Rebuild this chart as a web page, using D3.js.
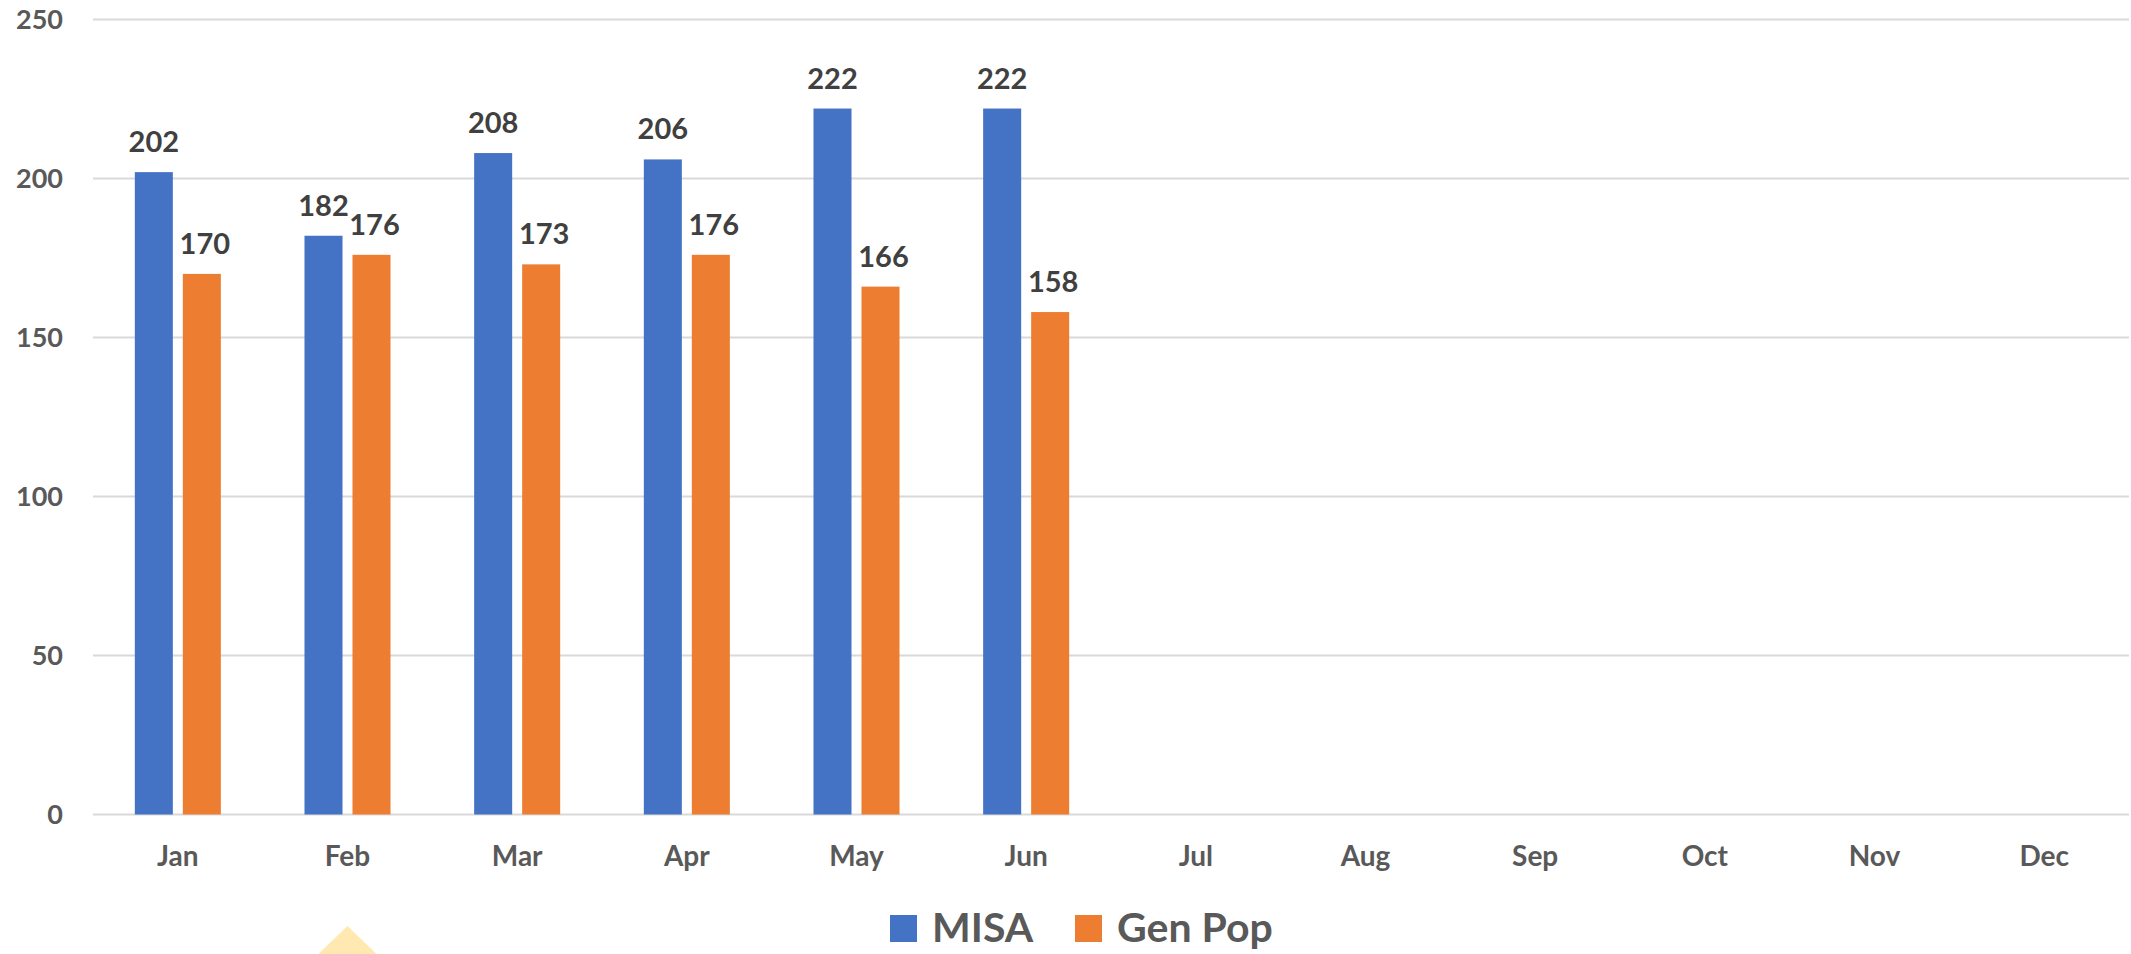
<!DOCTYPE html>
<html lang="en">

<head>
    <meta charset="UTF-8">
    <script src="https://d3js.org/d3.v7.min.js"></script>
    <style>
        body { margin: 0; background: #fff; }
        text { font-family: Lato, "Open Sans", sans-serif; font-weight: 700; }
    </style>
    <title>MISA vs Gen Pop</title>
</head>

<body>
    <div id="chart"></div>

    <script>
        // data
        var months = ["Jan", "Feb", "Mar", "Apr", "May", "Jun", "Jul", "Aug", "Sep", "Oct", "Nov", "Dec"];
        var seriesNames = ["MISA", "Gen Pop"];
        var misa = [202, 182, 208, 206, 222, 222];
        var genPop = [170, 176, 173, 176, 166, 158];
        var yTicks = [0, 50, 100, 150, 200, 250];
        var colors = ["#4472C4", "#ED7D31"];

        var width = 2131, height = 954;
        var margin = { top: 19.5, right: 2, bottom: 140, left: 93 };

        var svg = d3.select("#chart").append("svg")
            .attr("width", width)
            .attr("height", height);

        var x = d3.scaleBand()
            .domain(months)
            .range([margin.left, width - margin.right])
            .paddingInner(0.493)
            .paddingOuter(0.2465);

        var xs = d3.scaleBand()
            .domain(seriesNames)
            .range([0, x.bandwidth()])
            .paddingInner(0.208);

        var y = d3.scaleLinear()
            .domain([0, 250])
            .range([814.5, margin.top]);

        // gridlines
        svg.append("g")
            .selectAll("line")
            .data(yTicks)
            .enter()
            .append("line")
            .attr("x1", margin.left)
            .attr("x2", width - margin.right)
            .attr("y1", function (d) { return y(d); })
            .attr("y2", function (d) { return y(d); })
            .attr("stroke", "#D9D9D9")
            .attr("stroke-width", 2);

        // y labels
        svg.append("g")
            .selectAll("text")
            .data(yTicks)
            .enter()
            .append("text")
            .attr("x", 63)
            .attr("y", function (d) { return y(d); })
            .attr("dy", "0.35em")
            .attr("text-anchor", "end")
            .attr("fill", "#595959")
            .style("font-size", "27px")
            .text(function (d) { return d; });

        // x labels
        svg.append("g")
            .selectAll("text")
            .data(months)
            .enter()
            .append("text")
            .attr("x", function (d) { return x(d) + x.bandwidth() / 2; })
            .attr("y", 866)
            .attr("text-anchor", "middle")
            .attr("fill", "#595959")
            .style("font-size", "28px")
            .text(function (d) { return d; });

        // bars
        var rows = [];
        months.forEach(function (m, i) {
            if (i < misa.length) {
                rows.push({ month: m, key: "MISA", value: misa[i], color: colors[0] });
                rows.push({ month: m, key: "Gen Pop", value: genPop[i], color: colors[1] });
            }
        });

        svg.append("g")
            .selectAll("rect")
            .data(rows)
            .enter()
            .append("rect")
            .attr("x", function (d) { return x(d.month) + xs(d.key); })
            .attr("y", function (d) { return y(d.value); })
            .attr("width", xs.bandwidth())
            .attr("height", function (d) { return y(0) - y(d.value); })
            .attr("fill", function (d) { return d.color; });

        // value labels
        svg.append("g")
            .selectAll("text")
            .data(rows)
            .enter()
            .append("text")
            .attr("x", function (d) { return x(d.month) + xs(d.key) + xs.bandwidth() / 2 + (d.key == "Gen Pop" ? 3 : 0); })
            .attr("y", function (d) { return y(d.value) - 20; })
            .attr("text-anchor", "middle")
            .attr("fill", "#404040")
            .style("font-size", "29px")
            .text(function (d) { return d.value; });

        // legend
        var legendX = [890, 1075];
        var legend = svg.append("g")
            .selectAll("g")
            .data(seriesNames)
            .enter()
            .append("g")
            .attr("transform", function (d, i) { return "translate(" + legendX[i] + ",915)"; });

        legend.append("rect")
            .attr("width", 27)
            .attr("height", 27)
            .attr("fill", function (d, i) { return colors[i]; });

        legend.append("text")
            .attr("x", 42)
            .attr("y", 27)
            .attr("fill", "#595959")
            .style("font-size", "41px")
            .text(function (d) { return d; });

        // little yellow marker under Feb
        var cx = x("Feb") + x.bandwidth() / 2;
        svg.append("path")
            .attr("d", "M" + (cx - 29) + ",954L" + cx + ",926L" + (cx + 29) + ",954Z")
            .attr("fill", "#FFE9B0");
    </script>
</body>

</html>
